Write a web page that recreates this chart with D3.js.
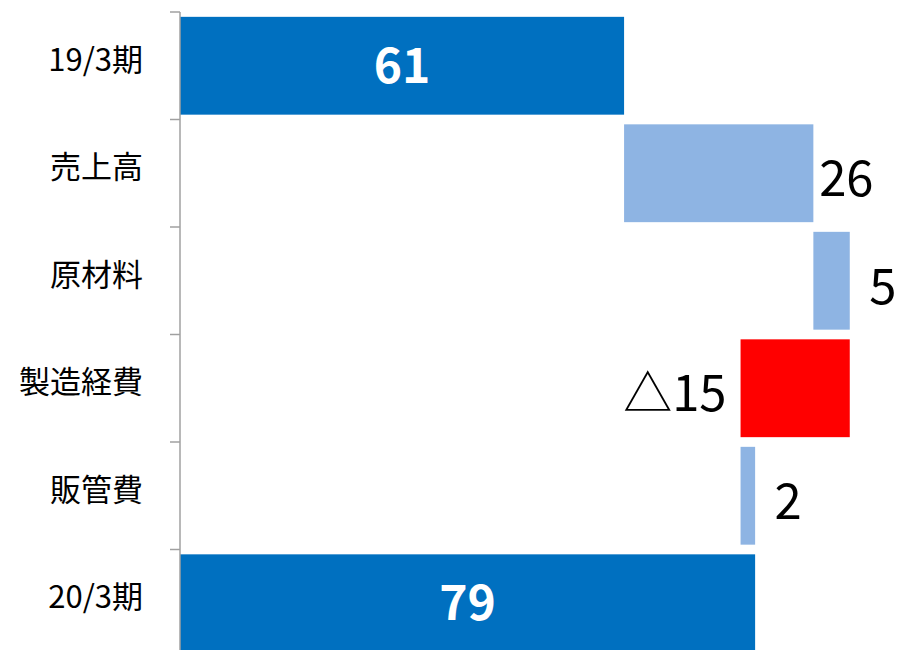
<!DOCTYPE html>
<html>
<head>
<meta charset="utf-8">
<script src="https://cdn.jsdelivr.net/npm/d3@7"></script>
<style>
  body { margin: 0; background: #fff; }
  text { font-family: "Noto Sans CJK JP", "Noto Sans", sans-serif; }
</style>
</head>
<body>
<div id="chart"></div>
<script>
// categories and values (change for steps, full value for totals)
const categories = ["19/3期", "売上高", "原材料", "製造経費", "販管費", "20/3期"];
const values = [61, 26, 5, -15, 2, 79];
const isTotal = [true, false, false, false, false, true];

const width = 899, height = 650;
const margin = {top: 12, right: 0, bottom: -7, left: 180};

const svg = d3.select("#chart").append("svg")
    .attr("width", width)
    .attr("height", height);

// build waterfall steps
let running = 0;
const steps = categories.map(function (c, i) {
    let start, end;
    if (isTotal[i]) {
        start = 0; end = values[i]; running = values[i];
    } else {
        start = running; end = running + values[i]; running = end;
    }
    return {cat: c, value: values[i], total: isTotal[i], x0: Math.min(start, end), x1: Math.max(start, end)};
});

const x = d3.scaleLinear()
    .domain([0, 100])
    .range([margin.left, margin.left + 728]);

const y = d3.scaleBand()
    .domain(categories)
    .range([margin.top, height - margin.bottom])
    .paddingInner(0.09)
    .paddingOuter(0.045);

// bars
svg.append("g")
    .selectAll("rect")
    .data(steps)
    .enter()
    .append("rect")
    .attr("x", function (d) { return x(d.x0); })
    .attr("y", function (d) { return y(d.cat); })
    .attr("width", function (d) { return x(d.x1) - x(d.x0); })
    .attr("height", y.bandwidth())
    .attr("fill", function (d) {
        if (d.total) return "#0070C0";
        return d.value < 0 ? "#FF0000" : "#8EB4E3";
    });

// y axis with ticks between bands
const axis = svg.append("g").attr("class", "y-axis");
const bandH = (height - margin.bottom - margin.top) / categories.length;
const bandEdges = d3.range(categories.length + 1).map(function (i) {
    return margin.top + i * bandH;
});
axis.append("line")
    .attr("x1", margin.left).attr("x2", margin.left)
    .attr("y1", bandEdges[0]).attr("y2", height)
    .attr("stroke", "#A0A0A0").attr("stroke-width", 1.5);
axis.selectAll(".tick")
    .data(bandEdges)
    .enter()
    .append("line")
    .attr("x1", margin.left - 10).attr("x2", margin.left)
    .attr("y1", function (d) { return d; }).attr("y2", function (d) { return d; })
    .attr("stroke", "#A0A0A0").attr("stroke-width", 1.5);

axis.selectAll(".lbl")
    .data(categories)
    .enter()
    .append("text")
    .attr("x", margin.left - 37)
    .attr("y", function (d, i) { return bandEdges[i] + bandH / 2 - 6; })
    .attr("dy", "0.35em")
    .attr("text-anchor", "end")
    .attr("font-size", 31)
    .attr("fill", "#000")
    .text(function (d) { return d; });

// value labels
svg.append("g")
    .selectAll("text")
    .data(steps)
    .enter()
    .append("text")
    .attr("x", function (d) {
        if (d.total) return (x(d.x0) + x(d.x1)) / 2;
        return d.value < 0 ? x(d.x0) - 14 : x(d.x1) + 33;
    })
    .attr("y", function (d) {
        return y(d.cat) + y.bandwidth() / 2 + (d.total ? 0 : 6);
    })
    .attr("dy", "0.35em")
    .attr("text-anchor", function (d) {
        if (d.total) return "middle";
        return d.value < 0 ? "end" : "middle";
    })
    .attr("font-size", function (d) { return d.total ? 48 : 49; })
    .attr("font-weight", function (d) { return d.total ? "bold" : "normal"; })
    .attr("fill", function (d) { return d.total ? "#fff" : "#000"; })
    .text(function (d) { return d.value < 0 ? "△" + Math.abs(d.value) : d.value; });
</script>
</body>
</html>
